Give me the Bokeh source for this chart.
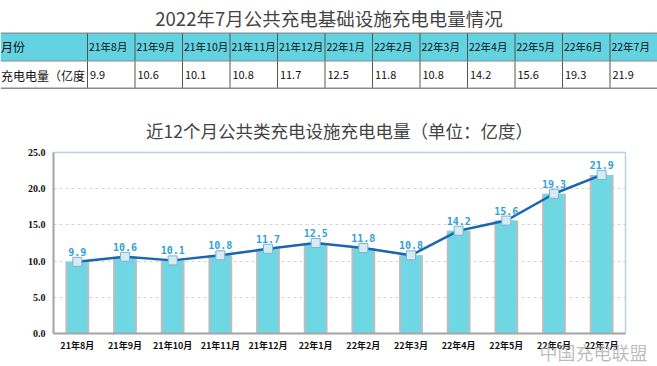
from bokeh.plotting import figure
from bokeh.layouts import column, row
from bokeh.models import Range1d, FixedTicker, PrintfTickFormatter, Title, ColumnDataSource
from bokeh.core.properties import value
from bokeh.embed import file_html
from bokeh.resources import INLINE

# ---- data ----
months = ["21年8月", "21年9月", "21年10月", "21年11月", "21年12月", "22年1月",
          "22年2月", "22年3月", "22年4月", "22年5月", "22年6月", "22年7月"]
energy = [9.9, 10.6, 10.1, 10.8, 11.7, 12.5, 11.8, 10.8, 14.2, 15.6, 19.3, 21.9]
row_headers = ["月份", "充电电量（亿度"]
table_title = "2022年7月公共充电基础设施充电电量情况"
chart_title = "近12个月公共类充电设施充电电量（单位：亿度）"
y_ticks = [0, 5, 10, 15, 20, 25]
watermark = "中国充电联盟"

energy_labels = [f"{v:.1f}" for v in energy]

CJK = "Noto Sans CJK SC"
HEADER_FILL = "#63D3E2"
BAR_FILL = "#6FD6E4"

W = 657
FIRST_W = 87.0
COL_W = (W - FIRST_W) / len(months)
first_units = FIRST_W / COL_W

# ---- table figure ----
t = figure(width=W, height=89, x_range=Range1d(-first_units, len(months)),
           y_range=Range1d(0, 2), toolbar_location=None, output_backend="svg",
           x_axis_location=None, y_axis_location=None,
           min_border_left=0, min_border_right=0, min_border_bottom=0, min_border_top=27)
t.title.text = table_title
t.title.align = "center"
t.title.text_font = CJK
t.title.text_font_size = "18.5px"
t.title.text_font_style = "normal"
t.title.standoff = 4
t.outline_line_color = None
t.grid.visible = False

idx = list(range(len(months)))
lefts = [-first_units] + idx
rights = [0] + [i + 1 for i in idx]
t.quad(left=lefts, right=rights, bottom=1, top=2, fill_color=HEADER_FILL, line_color=None)
edges = [i for i in range(len(months) + 1)]
t.segment(x0=edges, y0=0, x1=edges, y1=2, line_color="#555555", line_width=1)
t.segment(x0=-first_units, y0=[0.03, 1, 1.98], x1=len(months), y1=[0.03, 1, 1.98],
          line_color="#8A8A8A", line_width=[2.5, 1, 1.5])

t.text(x=-first_units + 0.01, y=[1.5, 0.5], text=row_headers, text_align="left",
       text_baseline="middle", text_font=value(CJK), text_font_size="12px", text_color="#111111")
t.text(x=[i + 0.03 for i in idx], y=1.5, text=months, text_align="left",
       text_baseline="middle", text_font=value(CJK), text_font_size="10.5px", text_color="#111111")
t.text(x=[i + 0.05 for i in idx], y=0.5, text=energy_labels, text_align="left",
       text_baseline="middle", text_font=value(CJK), text_font_size="11px", text_color="#111111")

# ---- chart figure ----
p = figure(width=W, height=277, x_range=months, y_range=Range1d(0, 25),
           toolbar_location=None, output_backend="svg",
           min_border_left=53, min_border_right=32, min_border_top=63, min_border_bottom=33)
p.title.text = chart_title
p.title.align = "center"
p.title.text_font = CJK
p.title.text_font_size = "17.5px"
p.title.text_font_style = "normal"
p.title.standoff = 19
p.title.offset = -8
p.outline_line_color = "#BCD0E2"
p.outline_line_width = 1.5

p.xgrid.visible = False
p.ygrid.grid_line_color = "#D5D5D5"
p.ygrid.grid_line_dash = "3 3"
p.yaxis.ticker = FixedTicker(ticks=y_ticks)
p.yaxis.formatter = PrintfTickFormatter(format="%.1f")
for ax in (p.xaxis, p.yaxis):
    ax.axis_line_color = "#A8A8A8"
    ax.axis_line_width = 2
    ax.major_tick_line_color = None
    ax.minor_tick_line_color = None
    ax.major_tick_out = 0
    ax.major_tick_in = 0
    ax.major_label_text_font_style = "bold"
    ax.major_label_text_color = "#111111"
p.yaxis.major_label_text_font = "Liberation Serif"
p.yaxis.major_label_text_font_size = "10px"
p.yaxis.major_label_standoff = 8
p.xaxis.major_label_text_font = CJK
p.xaxis.major_label_text_font_size = "9px"
p.xaxis.major_label_standoff = 5

src = ColumnDataSource(dict(m=months, v=energy, lab=energy_labels))
p.vbar(x="m", top="v", width=0.5, source=src, fill_color="#BDBDBD", line_color=None)
p.vbar(x="m", top="v", width=0.42, source=src, fill_color=BAR_FILL, line_color=None)
p.line(x="m", y="v", source=src, line_color="#1A66B3", line_width=2.5)
p.scatter(x="m", y="v", source=src, marker="square", size=9,
          fill_color="#D6ECF4", line_color="#88AFC8", line_width=1)
p.text(x="m", y="v", text="lab", source=src, text_align="center", text_baseline="bottom",
       y_offset=-6, text_font=value("DejaVu Sans Mono"), text_font_style="bold",
       text_font_size="10px", text_color="#2EA2D9")

wm = Title(text=watermark, align="right", vertical_align="top", text_font=CJK,
           text_font_size="18px", text_font_style="normal", text_color="#A8A8A8",
           text_alpha=0.75, standoff=-32, offset=-22)
p.add_layout(wm, "below")

layout = column(row(t), row(p), spacing=0)
open("out.html", "w").write(file_html(layout, INLINE))
